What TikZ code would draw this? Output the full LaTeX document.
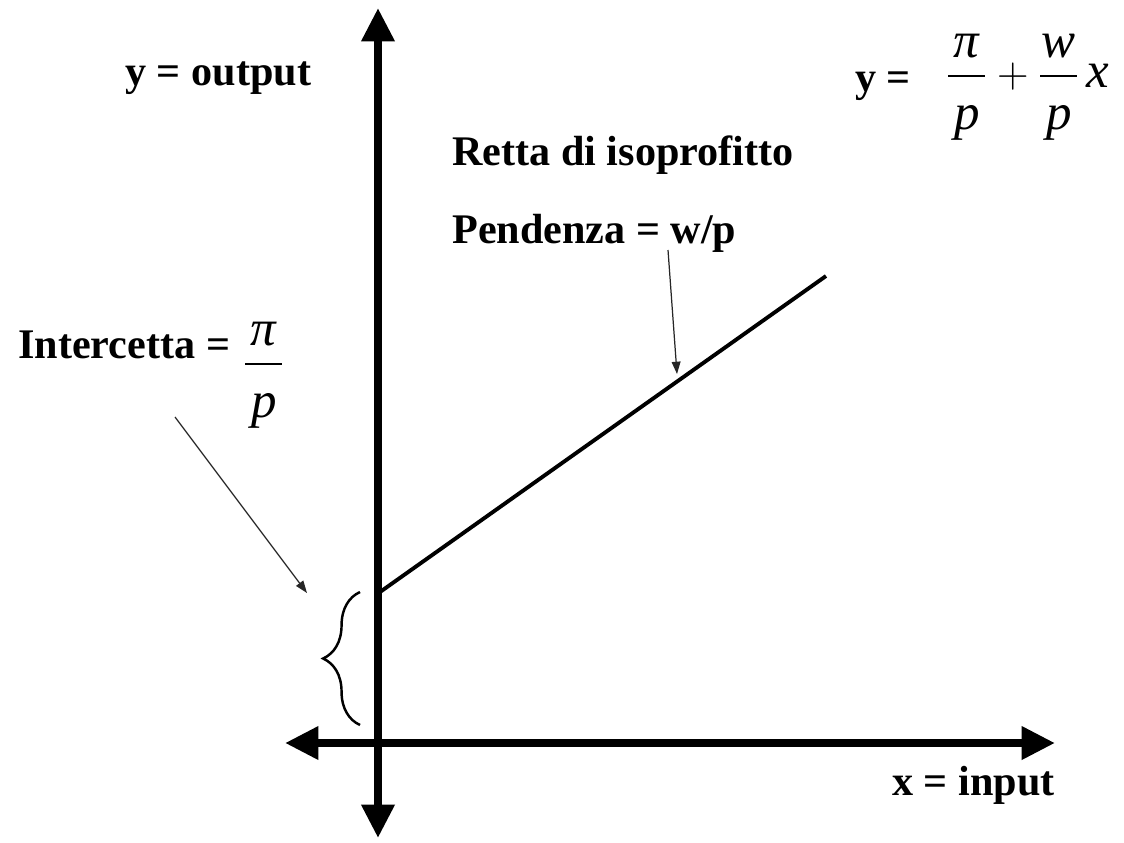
\documentclass[tikz,border=0pt]{standalone}
\usepackage{amsmath}
\usepackage{fontspec}
\setmainfont{Liberation Serif}
\usetikzlibrary{arrows.meta,decorations.pathreplacing}
\newcommand{\ratio}[2]{\dfrac{\makebox[21pt]{\textit{#1}}}{\makebox[21pt]{\raisebox{-7pt}{\textit{#2}}}}}

\begin{document}
\begin{tikzpicture}[x=0.02cm,y=-0.02cm,
    lbl/.style={font=\fontsize{24}{28}\selectfont\bfseries, inner sep=0pt, anchor=base west},
    eqn/.style={font=\fontsize{29}{34}\selectfont, inner sep=0pt, anchor=base west},
    axis/.style={line width=4.5pt, {Triangle[length=19pt,width=18pt]}-{Triangle[length=19pt,width=18pt]}},
    pointer/.style={line width=0.7pt, black!85, -{Triangle[length=7pt,width=5pt]}}]
        \useasboundingbox (0,0) rectangle (1124,842);
        % axes
        \coordinate (ytop) at (378,8);
        \coordinate (ybot) at (378,838);
        \coordinate (xleft) at (285,743);
        \coordinate (xright) at (1055,743);
        \draw[axis] (xleft) -- (xright);
        \draw[axis] (ybot) -- (ytop);
        \node[lbl] (yout) at (125,85) {y = output};
        \node[lbl] (xin) at (892,795) {x = input};
        % isoprofit line
        \coordinate (yint) at (380,592);
        \coordinate (lend) at (826,276);
        \draw[line width=2.2pt] (yint) -- (lend);
        \draw[line width=1.4pt, decorate, decoration={brace, amplitude=21pt}] (360,725) -- (360,592);
        % labels
        \node[lbl] (retta) at (452,165) {Retta di isoprofitto};
        \node[lbl] (pend) at (452,243) {Pendenza = w/p};
        \node[lbl] (icpt) at (18,358) {Intercetta =};
        \node[eqn] (icptfrac) at (243,375) {$\ratio{π}{p}$};
        \node[lbl] (yeq) at (855,91) {y =};
        \node[eqn] (profit) at (946,87) {$\ratio{π}{p}+\ratio{w}{p}\,\textit{x}$};
        % pointers
        \coordinate (itail) at (175,417);
        \coordinate (ihead) at (307,593);
        \coordinate (ptail) at (668,250);
        \coordinate (phead) at (677,374);
        \draw[pointer] (itail) -- (ihead);
        \draw[pointer] (ptail) -- (phead);
    \end{tikzpicture}
\end{document}
